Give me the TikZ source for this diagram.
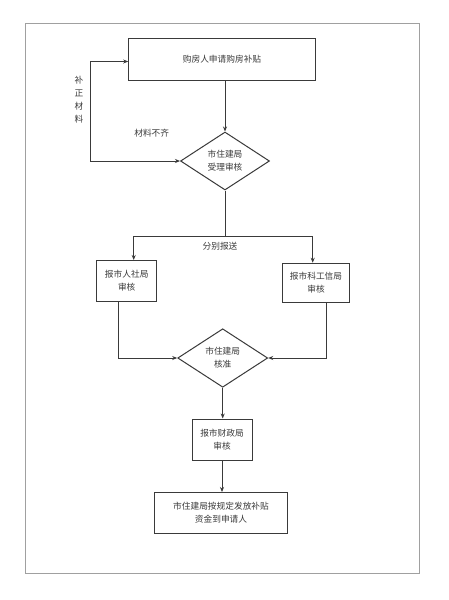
\documentclass[tikz,border=0pt]{standalone}
\usepackage{fontspec}
\setmainfont{Noto Sans CJK SC}
\usetikzlibrary{shapes.geometric,arrows.meta}
\definecolor{ink}{HTML}{3A3A3A}
\definecolor{framegray}{HTML}{A0A0A0}
\begin{document}
\begin{tikzpicture}[x=1pt,y=-1pt,
  font=\fontsize{8.7}{13.3}\selectfont,
  every node/.style={text=ink},
  boxnode/.style={draw=ink,line width=1pt,rectangle,inner sep=0pt,align=center},
  dianode/.style={draw=ink,line width=1pt,diamond,inner sep=0pt,aspect=1.53,align=center},
  conn/.style={draw=ink,line width=0.8pt},
  arr/.style={conn,-{Stealth[length=5pt,width=4pt]}},
  arrboth/.style={conn,{Stealth[length=5pt,width=4pt]}-{Stealth[length=5pt,width=4pt]}},
  lbl/.style={align=center,inner sep=0pt}]
\useasboundingbox (0,0) rectangle (449,600);
\fill[white] (0,0) rectangle (449,600);
\draw[framegray,line width=1pt] (25.7,23.8) rectangle (419,573);

\node[boxnode,minimum width=186.6pt,minimum height=42.3pt] (top) at (222,59.6) {购房人申请购房补贴};
\node[dianode,minimum width=89pt,minimum height=58pt] (d1) at (225,161) {市住建局\\受理审核};
\node[boxnode,minimum width=60pt,minimum height=41pt] (lbox) at (126.7,281) {报市人社局\\审核};
\node[boxnode,minimum width=66.6pt,minimum height=39.5pt] (rbox) at (316,283) {报市科工信局\\审核};
\node[dianode,minimum width=90pt,minimum height=58.5pt] (d2) at (222.7,358) {市住建局\\核准};
\node[boxnode,minimum width=60pt,minimum height=41pt] (b3) at (222,439.5) {报市财政局\\审核};
\node[boxnode,minimum width=133.5pt,minimum height=41pt] (b4) at (221,513) {市住建局按规定发放补贴\\资金到申请人};

\node[lbl,font=\fontsize{8.7}{13}\selectfont] (bz) at (79,99.5) {补\\正\\材\\料};
\node[lbl] (bq) at (151.7,133.5) {材料不齐};
\node[lbl] (fb) at (220,246) {分别报送};

\coordinate (fbc) at (90.7,100);
\coordinate (split) at (225,236);
\coordinate (sl) at (133.7,236);
\coordinate (sr) at (312.7,236);

\draw[arr] (top.south -| d1.north) -- (d1.north);
\draw[arrboth] (d1.west) -| (fbc) |- ([yshift=-1.9pt]top.west);
\draw[conn] (d1.south) -- (split);
\draw[arr] (split) -- (sl) -- (sl |- lbox.north);
\draw[arr] (split) -- (sr) -- (sr |- rbox.north);
\draw[arr] ([xshift=-8.4pt]lbox.south) |- (d2.west);
\draw[arr] ([xshift=10.7pt]rbox.south) |- (d2.east);
\draw[arr] (d2.south) -- (d2.south |- b3.north);
\draw[arr] (b3.south) -- (b3.south |- b4.north);
\end{tikzpicture}
\end{document}
